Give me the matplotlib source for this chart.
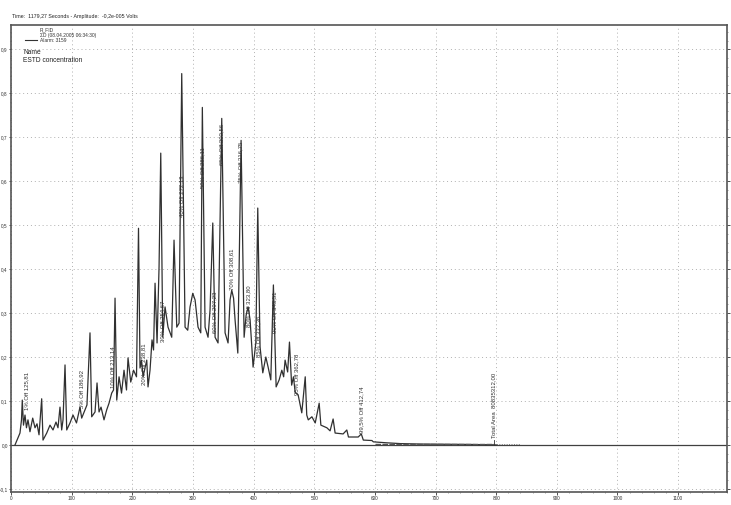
import numpy as np
import matplotlib
matplotlib.use("Agg")
import matplotlib.pyplot as plt
from matplotlib.ticker import MultipleLocator, FuncFormatter

plt.rcParams['font.family'] = ['Liberation Sans', 'DejaVu Sans']

# FID trace, retention time (s) vs signal (V)
trace_t = [6.3, 14.5, 17, 18.3, 20.3, 22.8, 25.2, 27.7, 31, 35.5, 39.3, 42.6, 45.9, 50.3,
           52.5, 58.6, 64, 69, 73.9, 77.2, 80.5, 83.3, 85.5, 88.8, 91.6, 97, 102, 107.7,
           113.5, 116.3, 121.8, 125, 130, 132.8, 138.3, 141.6, 144.9, 148.2, 153.1, 157.6,
           161.4, 165.8, 168.8, 171.3, 174.1, 177.9, 182, 186.1, 190.2, 192.7, 197.2, 201.8,
           206.7, 210, 212.5, 215, 217.5, 223.6, 225.7, 229, 232.3, 234.8, 237.3, 240.6,
           243.9, 246.7, 250, 253.8, 258.7, 264.8, 268.6, 273.1, 276.9, 281.3, 286.8, 291.2,
           295, 299.5, 303.3, 308.2, 312.7, 315.3, 319.8, 324.7, 328, 332.5, 336.3, 341.2,
           347.3, 352.8, 357.7, 361, 363.8, 366.8, 369.3, 373.8, 379.2, 384.2, 387.5, 390.8,
           394.1, 399, 403.5, 406.7, 410.5, 415, 420, 423.8, 428.2, 432.5, 437, 442, 446.4,
           449.4, 451.8, 456, 459, 462.6, 465.6, 468.4, 473.3, 479.3, 485, 487.5, 490, 496,
           501.5, 508, 510.8, 520.7, 526, 531, 534.3, 547.5, 553.6, 556.3, 572.4, 577.5,
           580.8, 595, 597.3, 617, 641.6, 674.8, 757, 800]
trace_v = [0.000, 0.027, 0.057, 0.102, 0.045, 0.068, 0.039, 0.057, 0.030, 0.061, 0.039, 0.048,
           0.023, 0.105, 0.011, 0.027, 0.045, 0.034, 0.052, 0.039, 0.086, 0.034, 0.057, 0.182,
           0.034, 0.050, 0.068, 0.050, 0.086, 0.061, 0.080, 0.091, 0.255, 0.064, 0.075, 0.141,
           0.075, 0.086, 0.057, 0.080, 0.095, 0.118, 0.125, 0.334, 0.102, 0.155, 0.118, 0.170,
           0.125, 0.198, 0.143, 0.170, 0.155, 0.493, 0.175, 0.193, 0.155, 0.193, 0.132, 0.170,
           0.239, 0.216, 0.368, 0.232, 0.405, 0.664, 0.245, 0.314, 0.268, 0.245, 0.466, 0.268,
           0.277, 0.845, 0.268, 0.261, 0.314, 0.345, 0.330, 0.268, 0.255, 0.768, 0.268, 0.245,
           0.307, 0.505, 0.245, 0.232, 0.743, 0.255, 0.232, 0.330, 0.352, 0.334, 0.284, 0.209,
           0.693, 0.245, 0.295, 0.314, 0.284, 0.177, 0.232, 0.539, 0.223, 0.164, 0.200, 0.177,
           0.148, 0.364, 0.132, 0.148, 0.170, 0.155, 0.193, 0.166, 0.234, 0.136, 0.155, 0.120,
           0.114, 0.073, 0.155, 0.068, 0.057, 0.064, 0.050, 0.095, 0.045, 0.039, 0.032, 0.059,
           0.027, 0.025, 0.034, 0.018, 0.018, 0.025, 0.011, 0.010, 0.007, 0.005, 0.003, 0.002,
           0.001, 0.000]

# cut-point labels: time, label base height, text
cut_t = [26, 117, 168, 219.5, 250.5, 281.8, 316.6, 336, 348, 364, 377.9, 392, 409, 434, 471, 578]
cut_y = [0.080, 0.084, 0.130, 0.136, 0.234, 0.518, 0.584, 0.255, 0.636, 0.352, 0.595, 0.268,
         0.200, 0.255, 0.114, 0.027]
cut_txt = ["1% Off 125,81", "5% Off 186,92", "10% Off 213,14", "20% Off 238,81",
           "30% Off 254,67", "40% Off 272,13", "50% Off 286,11", "60% Off 297,23",
           "65% Off 303,56", "70% Off 308,61", "75% Off 316,75", "80% Off 323,80",
           "85% Off 332,36", "90% Off 343,51", "95% Off 362,78", "99,5% Off 412,74"]

total_t = 795.6
total_txt = "Total Area  80835312,00"

fig = plt.figure(figsize=(7.31, 5.05), dpi=100)
ax = fig.add_axes([0.0153, 0.025, 0.9795, 0.925])

ax.set_xlim(0, 1181)
ax.set_ylim(-0.108, 0.955)

ax.grid(True, which='major', color='#b0b0b0', linestyle=(0, (1, 3)), linewidth=0.7)
ax.axhline(0, color='#404040', linewidth=0.9, zorder=2)

ax.plot(trace_t, trace_v, color='#303030', linewidth=0.9, zorder=3, label='R_FID')

# integration baseline at the tail
ax.plot([600, total_t], [0.003, 0.003], color='#555555', linewidth=1.0, linestyle=(0, (4, 1)), zorder=3)
ax.plot([total_t, 840], [0.003, 0.003], color='#777777', linewidth=0.7, linestyle=(0, (1, 1.5)), zorder=3)
ax.plot([total_t, total_t], [0.0, 0.012], color='#333333', linewidth=0.6, zorder=3)

for t, y, s in zip(cut_t, cut_y, cut_txt):
    ax.text(t, y, s, rotation=90, ha='center', va='bottom', fontsize=4.3, color='#333333', zorder=4)
ax.text(total_t, 0.016, total_txt, rotation=90, ha='center', va='bottom', fontsize=4.3,
        color='#333333', zorder=4)

# legend block
ax.plot([22, 42], [0.921, 0.921], color='#333333', linewidth=0.8)
ax.text(47, 0.944, "R_FID", fontsize=3.5, va='center', color='#333333')
ax.text(47, 0.9325, "ΣD (08.04.2005 06:34:30)", fontsize=3.5, va='center', color='#333333')
ax.text(47, 0.921, "Alarm: 3159", fontsize=3.5, va='center', color='#333333')
ax.text(20, 0.893, "Name", fontsize=4.8, va='center', color='#222222')
ax.text(20, 0.875, "ESTD concentration", fontsize=4.8, va='center', color='#222222')

fig.text(0.016, 0.968, "Time:  1179,27 Seconds - Amplitude:  -0,2e-005 Volts",
         fontsize=3.8, va='center', color='#222222')

ax.xaxis.set_major_locator(MultipleLocator(100))
ax.xaxis.set_minor_locator(MultipleLocator(20))
ax.yaxis.set_major_locator(MultipleLocator(0.1))
ax.yaxis.set_minor_locator(MultipleLocator(0.02))
ax.yaxis.set_major_formatter(FuncFormatter(lambda v, p: f"{v:.1f}".replace('.', ',').replace('-0,0', '0,0')))
ax.xaxis.set_major_formatter(FuncFormatter(lambda v, p: f"{v:.0f}"))
ax.tick_params(axis='both', which='major', labelsize=3.4, length=1.8, width=0.6, pad=0.6,
               colors='#333333', right=True)
ax.tick_params(axis='both', which='minor', length=1.0, width=0.4, colors='#555555', right=True)

for sp in ax.spines.values():
    sp.set_color('#555555')
    sp.set_linewidth(1.2)

fig.savefig("out.png", dpi=100)
